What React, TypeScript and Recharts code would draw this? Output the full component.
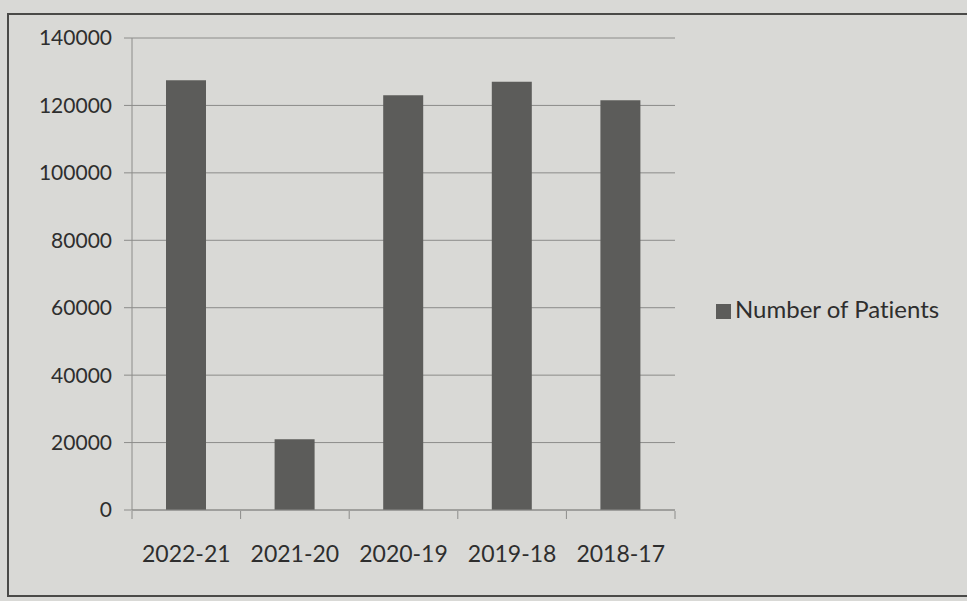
import { Bar, BarChart, CartesianGrid, Legend, XAxis, YAxis } from "recharts";

const years = ["2022-21", "2021-20", "2020-19", "2019-18", "2018-17"];
const patients = [127500, 21000, 123000, 127000, 121500];
const yTicks = [0, 20000, 40000, 60000, 80000, 100000, 120000, 140000];
const boundaryTicks = [0, 1, 2, 3, 4, 5];

const data = years.map((y, i) => ({ year: y, patients: patients[i], pos: i + 0.5 }));

const font = "Lato, 'Open Sans', sans-serif";
const textStyle = { fontFamily: font, fontVariantLigatures: "none" as const };

export default function App() {
  return (
    <div
      style={{
        position: "absolute",
        left: 0,
        top: 0,
        width: 967,
        height: 601,
        background: "#d9d9d6",
        overflow: "hidden",
      }}
    >
      <div
        style={{
          position: "absolute",
          left: 7,
          top: 13,
          width: 990,
          height: 580,
          border: "2px solid #4a4a48",
        }}
      />
      <BarChart
        width={967}
        height={601}
        data={data}
        margin={{ top: 38, right: 292, bottom: 31, left: 0 }}
        barSize={40}
      >
        <CartesianGrid stroke="#8c8c8a" vertical={false} />
        {/* category labels; almost no height so the boundary-tick axis sits on the baseline too */}
        <XAxis
          dataKey="year"
          stroke="#8c8c8a"
          tick={{ fill: "#2e2e2e", fontSize: 23, style: textStyle }}
          tickLine={false}
          tickSize={8}
          tickMargin={28}
          height={1}
          interval={0}
        />
        {/* Excel-style ticks between categories */}
        <XAxis
          xAxisId="bounds"
          dataKey="pos"
          type="number"
          domain={[0, 5]}
          ticks={boundaryTicks}
          interval={0}
          axisLine={false}
          tickLine={{ stroke: "#8c8c8a" }}
          tick={{ fontSize: 1, fill: "none" }}
          tickFormatter={() => ""}
          tickSize={8}
          height={59}
        />
        <YAxis
          stroke="#8c8c8a"
          tick={{ fill: "#2e2e2e", fontSize: 21, style: textStyle }}
          domain={[0, 140000]}
          ticks={yTicks}
          tickSize={8}
          tickMargin={12}
          width={132}
        />
        <Legend
          layout="vertical"
          verticalAlign="middle"
          align="center"
          iconType="square"
          iconSize={15}
          wrapperStyle={{ left: 716, top: 294, width: 260, ...textStyle, fontSize: 24 }}
          formatter={(v: string) => <span style={{ color: "#2e2e2e" }}>{v}</span>}
        />
        <Bar
          dataKey="patients"
          name="Number of Patients"
          fill="#5c5c5a"
          isAnimationActive={false}
        />
      </BarChart>
    </div>
  );
}
